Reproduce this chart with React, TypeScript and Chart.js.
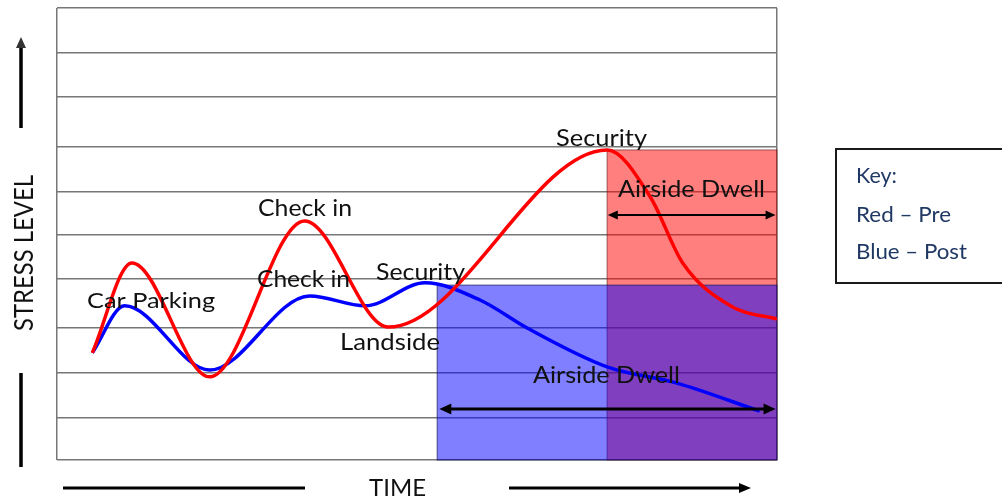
import React, { useEffect, useRef } from "react";
import { Chart, registerables } from "chart.js";

Chart.register(...registerables);

// ---- data (time 0..100, stress level 0..10) ----
const redTime = [4.9, 10.4, 21.2, 34.4, 46.0, 76.4, 82.4, 86.9, 93.9, 100];
const redStress = [2.37, 4.36, 1.84, 5.29, 2.94, 6.86, 5.82, 4.36, 3.38, 3.12];

const blueTime = [4.9, 9.4, 21.2, 35.1, 42.8, 51.1, 58.75, 65.3, 76.4, 86.1, 97.6];
const blueStress = [2.37, 3.41, 1.99, 3.63, 3.41, 3.92, 3.54, 2.92, 2.06, 1.7, 1.08];

const gridLevels = [0, 0.93, 1.92, 2.92, 4.0, 4.98, 5.93, 6.92, 8.03, 9.0, 10];

// shaded phases: [startTime, endTime, topStress]
const redPhase = [76.4, 100, 6.86];
const bluePhase = [52.8, 100, 3.87];

// dwell arrows: [startTime, endTime, level]
const redArrow = [76.5, 99.8, 5.42];
const blueArrow = [53.1, 99.8, 1.13];

// annotations: text, left time, baseline level, width in time units
const labelTexts = ["Car Parking", "Check in", "Check in", "Security", "Landside", "Security", "Airside Dwell", "Airside Dwell"];
const labelLeft = [4.17, 27.92, 27.78, 44.31, 39.31, 69.31, 77.92, 66.11];
const labelBase = [3.36, 5.4, 3.83, 3.98, 2.43, 6.95, 5.82, 1.7];
const labelWidth = [17.78, 13.06, 12.92, 12.36, 13.89, 12.64, 20.42, 20.42];

const keyLines = ["Key:", "Red \u2013 Pre", "Blue \u2013 Post"];
const yAxisTitle = "STRESS LEVEL";
const xAxisTitle = "TIME";

const FONT = "Lato, 'Open Sans', sans-serif";

function fitText(
  ctx: CanvasRenderingContext2D,
  text: string,
  left: number,
  baseline: number,
  capHeight: number,
  width: number,
  color: string
) {
  const size = capHeight / 0.7165;
  ctx.save();
  ctx.font = `${size}px ${FONT}`;
  const w = ctx.measureText(text).width;
  ctx.translate(left, baseline);
  ctx.scale(width / w, 1);
  ctx.fillStyle = color;
  ctx.textBaseline = "alphabetic";
  ctx.textAlign = "left";
  ctx.fillText(text, 0, 0);
  ctx.restore();
}

function arrowHead(ctx: CanvasRenderingContext2D, x: number, y: number, dir: number, len: number, half: number, vertical = false) {
  ctx.beginPath();
  if (!vertical) {
    ctx.moveTo(x, y);
    ctx.lineTo(x - dir * len, y - half);
    ctx.lineTo(x - dir * len, y + half);
  } else {
    ctx.moveTo(x, y);
    ctx.lineTo(x - half, y - dir * len);
    ctx.lineTo(x + half, y - dir * len);
  }
  ctx.closePath();
  ctx.fill();
}

const decorPlugin = {
  id: "decor",
  beforeDatasetsDraw(chart: any) {
    const { ctx, scales } = chart;
    const xs = scales.x, ys = scales.y;
    const rect = (p: number[], fill: string, stroke: string) => {
      const x0 = xs.getPixelForValue(p[0]);
      const x1 = xs.getPixelForValue(p[1]);
      const y0 = ys.getPixelForValue(p[2]);
      const y1 = ys.getPixelForValue(0);
      ctx.save();
      ctx.fillStyle = fill;
      ctx.fillRect(x0, y0, x1 - x0, y1 - y0);
      ctx.strokeStyle = stroke;
      ctx.lineWidth = 1;
      ctx.strokeRect(x0, y0, x1 - x0, y1 - y0);
      ctx.restore();
    };
    rect(redPhase, "rgba(255,0,0,0.5)", "rgba(90,20,20,0.6)");
    rect(bluePhase, "rgba(0,0,255,0.5)", "rgba(20,20,80,0.7)");
  },
  afterDatasetsDraw(chart: any) {
    const { ctx, scales } = chart;
    const xs = scales.x, ys = scales.y;
    const dbl = (a: number[], lw: number, len: number, half: number) => {
      const x0 = xs.getPixelForValue(a[0]);
      const x1 = xs.getPixelForValue(a[1]);
      const y = ys.getPixelForValue(a[2]);
      ctx.save();
      ctx.strokeStyle = "#000";
      ctx.fillStyle = "#000";
      ctx.lineWidth = lw;
      ctx.beginPath();
      ctx.moveTo(x0 + len - 2, y);
      ctx.lineTo(x1 - len + 2, y);
      ctx.stroke();
      arrowHead(ctx, x0, y, -1, len, half);
      arrowHead(ctx, x1, y, 1, len, half);
      ctx.restore();
    };
    dbl(redArrow, 2, 10, 4.5);
    dbl(blueArrow, 3, 12, 5.5);

    labelTexts.forEach((t, i) => {
      const left = xs.getPixelForValue(labelLeft[i]);
      const right = xs.getPixelForValue(labelLeft[i] + labelWidth[i]);
      const base = ys.getPixelForValue(labelBase[i]);
      const cap = t === "Airside Dwell" ? 17 : t === "Car Parking" ? 15.5 : 16;
      fitText(ctx, t, left, base, cap, right - left, "#111");
    });
  },
  afterDraw(chart: any) {
    const { ctx, chartArea } = chart;
    const L = chartArea.left, B = chartArea.bottom, R = chartArea.right;
    ctx.save();
    ctx.strokeStyle = "#000";
    ctx.fillStyle = "#000";
    ctx.lineCap = "butt";
    const ax = L - 36;
    ctx.lineWidth = 3.5;
    ctx.beginPath();
    ctx.moveTo(ax, 128);
    ctx.lineTo(ax, 46);
    ctx.stroke();
    ctx.fillStyle = "#333";
    arrowHead(ctx, ax, 37, -1, 11, 5, true);
    ctx.fillStyle = "#000";
    ctx.beginPath();
    ctx.moveTo(ax, 373);
    ctx.lineTo(ax, 467);
    ctx.stroke();
    ctx.save();
    ctx.translate(ax + 12, 331);
    ctx.rotate(-Math.PI / 2);
    fitText(ctx, yAxisTitle, 0, 0, 19, 156, "#111");
    ctx.restore();
    const by = B + 28;
    ctx.lineWidth = 3;
    ctx.beginPath();
    ctx.moveTo(63, by);
    ctx.lineTo(305, by);
    ctx.stroke();
    ctx.beginPath();
    ctx.moveTo(509, by);
    ctx.lineTo(740, by);
    ctx.stroke();
    arrowHead(ctx, 751, by, 1, 12, 5);
    fitText(ctx, xAxisTitle, 369, B + 36, 16, 57, "#111");
    const kx = R + 59;
    ctx.lineWidth = 2;
    ctx.strokeStyle = "#1a1a1a";
    ctx.strokeRect(kx, 149, 240, 134);
    const keyBase = [183, 222, 259];
    const keyW = [41, 95, 111];
    keyLines.forEach((t, i) => {
      fitText(ctx, t, kx + 20, keyBase[i], 15.5, keyW[i], "#1f3864");
    });
    ctx.restore();
  },
};

export default function App() {
  const ref = useRef<HTMLCanvasElement | null>(null);
  useEffect(() => {
    if (!ref.current) return;
    const gridColor = "#777777";
    const chart = new Chart(ref.current, {
      type: "line",
      data: {
        datasets: [
          {
            label: "Pre",
            data: redTime.map((t, i) => ({ x: t, y: redStress[i] })),
            borderColor: "#ff0000",
            borderWidth: 3.5,
            pointRadius: 0,
            cubicInterpolationMode: "monotone",
            fill: false,
          },
          {
            label: "Post",
            data: blueTime.map((t, i) => ({ x: t, y: blueStress[i] })),
            borderColor: "#0000ff",
            borderWidth: 3.5,
            pointRadius: 0,
            cubicInterpolationMode: "monotone",
            fill: false,
          },
        ],
      },
      options: {
        animation: false,
        responsive: false,
        events: [],
        layout: { padding: { left: 57, right: 225, top: 8, bottom: 39 } },
        plugins: { legend: { display: false }, tooltip: { enabled: false } },
        scales: {
          x: {
            type: "linear",
            min: 0,
            max: 100,
            afterBuildTicks: (s: any) => {
              s.ticks = [{ value: 0 }, { value: 100 }];
            },
            afterFit: (s: any) => {
              s.height = 0;
            },
            ticks: { display: false },
            grid: { color: gridColor, lineWidth: 1.5, drawTicks: false },
            border: { display: false },
          },
          y: {
            type: "linear",
            min: 0,
            max: 10,
            afterBuildTicks: (s: any) => {
              s.ticks = gridLevels.map((v) => ({ value: v }));
            },
            afterFit: (s: any) => {
              s.width = 0;
            },
            ticks: { display: false },
            grid: { color: gridColor, lineWidth: 1.5, drawTicks: false },
            border: { display: false },
          },
        },
      },
      plugins: [decorPlugin],
    } as any);
    return () => chart.destroy();
  }, []);
  return (
    <div style={{ position: "fixed", left: 0, top: 0, width: 1002, height: 499, background: "#fff" }}>
      <canvas ref={ref} width={1002} height={499} style={{ width: 1002, height: 499 }} />
    </div>
  );
}
